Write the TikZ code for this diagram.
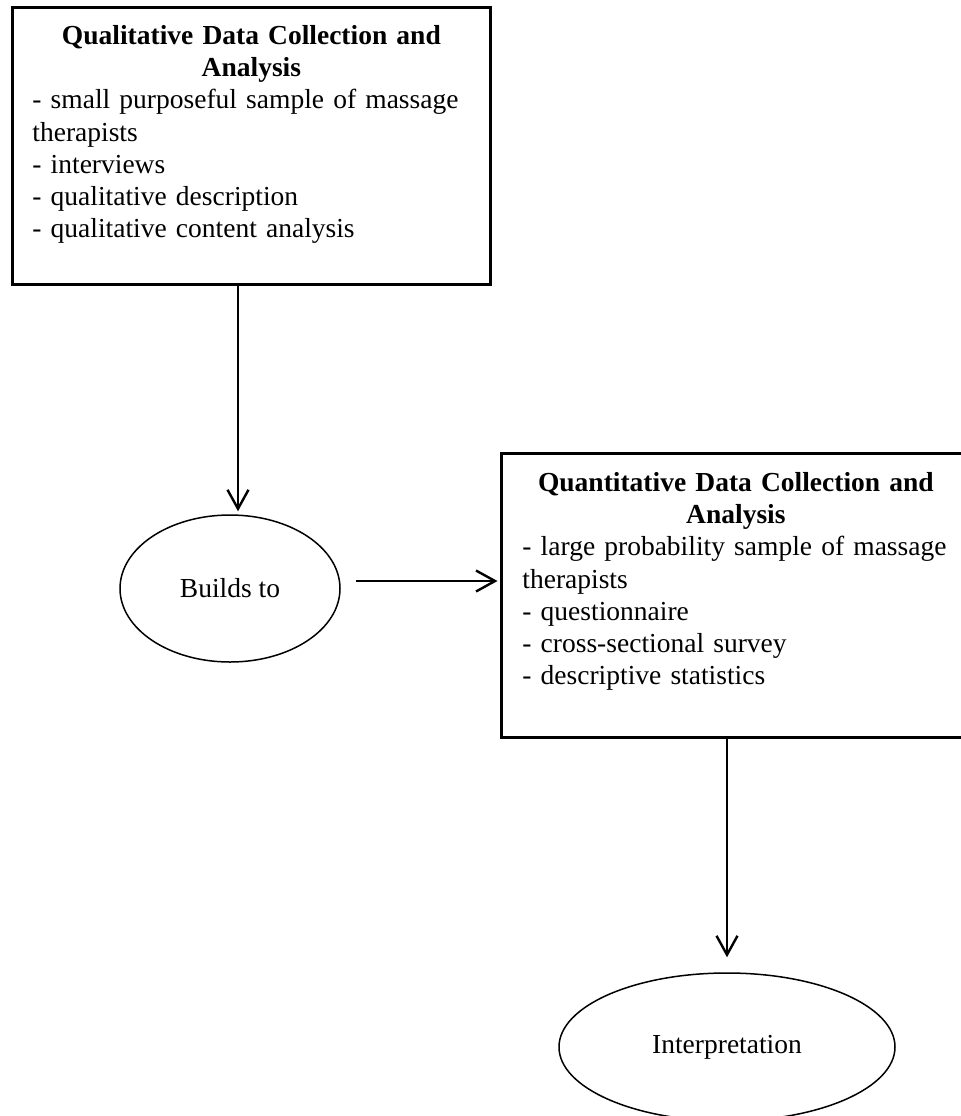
\documentclass[tikz,border=0pt]{standalone}
\usepackage{fontspec}
\setmainfont{Liberation Serif}
\usetikzlibrary{arrows.meta,shapes.geometric}
\newcommand\dgfs{\fontsize{13.75pt}{16.1pt}\selectfont}
\begin{document}
\begin{tikzpicture}[x=0.5pt,y=-0.5pt,
  box/.style={draw,line width=1.5pt,rectangle,inner sep=0pt},
  oval/.style={draw,line width=0.75pt,ellipse,inner sep=0pt,font=\dgfs},
  txt/.style={anchor=north west,inner sep=0pt,font=\dgfs,align=left},
  arr/.style={line width=1.2pt,-{Straight Barb[length=9.5pt,width=10.5pt,line width=1.2pt]}}]
\useasboundingbox (0,0) rectangle (961,1116);
% boxes
\node[box,minimum width=239pt,minimum height=138.5pt] (q1) at (251,145.5) {};
\node[txt,text width=219pt] (q1t) at (32,25) {{\centering\bfseries Qualitative Data Collection and\\ Analysis\par}
- small purposeful sample of massage\\
therapists\\
- interviews\\
- qualitative description\\
- qualitative content analysis};
\node[box,minimum width=231.5pt,minimum height=142pt] (q2) at (732.5,595) {};
\node[txt,text width=213.5pt] (q2t) at (522,472) {{\centering\bfseries Quantitative Data Collection and\\ Analysis\par}
\mbox{- large probability sample of massage}\\
therapists\\
- questionnaire\\
- cross-sectional survey\\
- descriptive statistics};
% ellipses
\node[oval,minimum width=110pt,minimum height=73.5pt] (b1) at (230,588.5) {Builds to};
\node[oval,minimum width=168pt,minimum height=74pt] (i1) at (727,1047) {Interpretation};
% connectors
\coordinate (c1) at (238,0);
\coordinate (h1) at (0,581);
\draw[arr,shorten >=1.5pt] (q1.south -| c1) -- (b1.north -| c1);
\draw[arr,shorten <=7.5pt,shorten >=1pt] (b1.east |- h1) -- (q2.west |- h1);
\draw[arr,shorten >=7.5pt] (q2.south -| i1.north) -- (i1.north);
\end{tikzpicture}
\end{document}
